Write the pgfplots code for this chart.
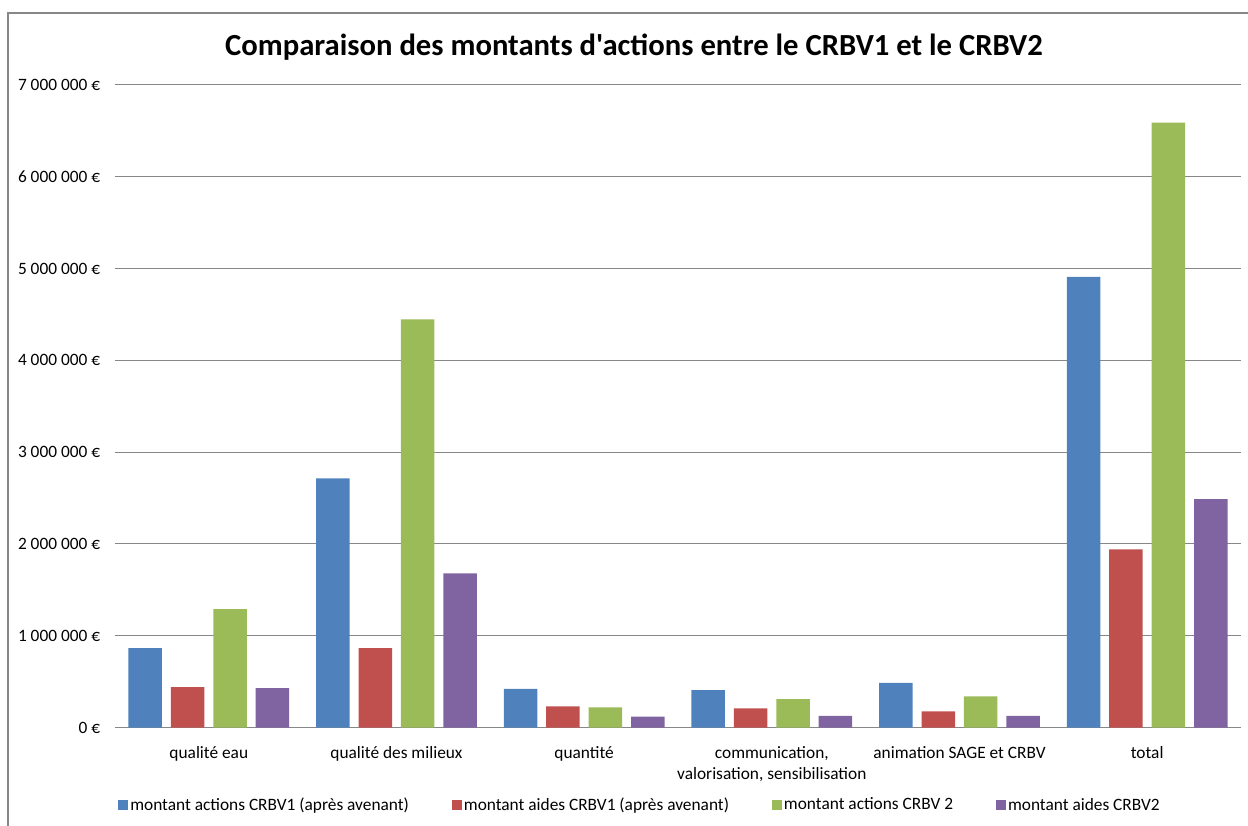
\documentclass[border=0pt]{standalone}
\usepackage{fontspec}
\setmainfont{Carlito}
\newfontfamily\titlefont{Carlito}
\usepackage{pgfplots}
\pgfplotsset{compat=1.18}
\definecolor{cblue}{HTML}{4F81BD}
\definecolor{cred}{HTML}{C0504D}
\definecolor{cgreen}{HTML}{9BBB59}
\definecolor{cpurple}{HTML}{8064A2}
\definecolor{cgrid}{HTML}{878787}
\begin{document}
\begin{tikzpicture}[x=0.75pt,y=0.75pt]
\useasboundingbox (0,0) rectangle (1248,825);
\draw[cgrid,line width=0.9pt] (8,-2) -- (8,812) -- (1250,812);
\node[font=\fontsize{23}{27}\titlefont\bfseries] at (634,778) {Comparaison des montants d'actions entre le CRBV1 et le CRBV2};
\begin{axis}[
  at={(86.25pt,73.125pt)}, anchor=south west,
  scale only axis, width=844.5pt, height=481.9pt,
  /pgf/number format/assume math mode=true,
  xmin=-0.5, xmax=5.5, ymin=0, ymax=7000000,
  axis line style={draw=none},
  major tick length=0pt,
  ymajorgrids, grid style={cgrid, line width=0.75pt},
  ytick={0,1000000,2000000,3000000,4000000,5000000,6000000,7000000},
  yticklabels={0 €,1 000 000 €,2 000 000 €,3 000 000 €,4 000 000 €,5 000 000 €,6 000 000 €,7 000 000 €},
  scaled y ticks=false,
  yticklabel style={font=\fontsize{13}{15}\selectfont, anchor=east, inner sep=0pt, xshift=-11pt},
  xtick={0,1,2,3,4,5},
  xticklabels={qualité eau, qualité des milieux, quantité, {communication,\\valorisation, sensibilisation}, animation SAGE et CRBV, total},
  xticklabel style={font=\fontsize{13}{16}\selectfont, align=center, anchor=north, inner sep=0pt, yshift=-14pt},
  ybar, bar width=0.1785,
  legend columns=4,
  legend style={at={(0.0027,-0.1206)}, anchor=west, draw=none, fill=none, inner sep=0pt,
    font=\fontsize{13}{15}\selectfont,
    /tikz/every even column/.append style={column sep=30.7pt},
    nodes={inner sep=1.5pt}},
  legend image code/.code={\fill[#1] (0pt,-3.75pt) rectangle (7.5pt,3.75pt);},
]
\addplot[fill=cblue, draw=none, bar shift=-0.339] coordinates {(0,865000) (1,2715000) (2,420000) (3,408000) (4,487000) (5,4910000)};
\addplot[fill=cred, draw=none, bar shift=-0.113] coordinates {(0,440000) (1,865000) (2,230000) (3,209000) (4,176000) (5,1940000)};
\addplot[fill=cgreen, draw=none, bar shift=0.113] coordinates {(0,1290000) (1,4445000) (2,220000) (3,310000) (4,340000) (5,6590000)};
\addplot[fill=cpurple, draw=none, bar shift=0.339] coordinates {(0,430000) (1,1680000) (2,118000) (3,128000) (4,128000) (5,2487000)};
\legend{montant actions CRBV1 (après avenant), montant aides CRBV1 (après avenant), montant actions CRBV 2, montant aides CRBV2}
\end{axis}
\end{tikzpicture}
\end{document}
